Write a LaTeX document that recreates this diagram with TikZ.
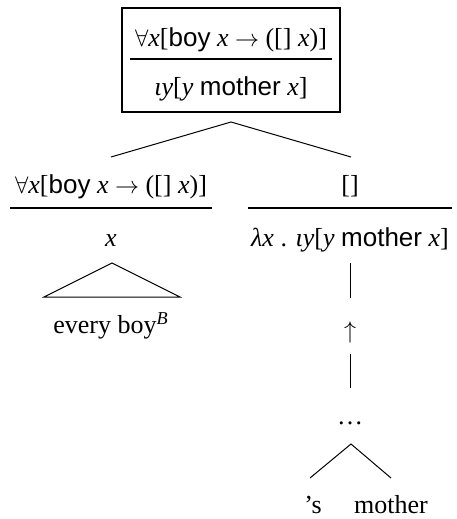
\documentclass[tikz,border=0pt]{standalone}
\usepackage{fontspec}
\setmainfont{Liberation Serif}
\newfontfamily\sansword{Liberation Sans}
\newcommand{\sw}[1]{{\sansword #1}}
\newcommand{\vi}[1]{\textit{#1}}
\begin{document}
\begin{tikzpicture}[x=0.5pt,y=-0.5pt,
  every node/.style={font=\fontsize{13}{15}\selectfont, inner sep=0pt},
  lbl/.style={anchor=base},
  edge/.style={draw=black, line width=0.5pt},
  rule/.style={draw=black, line width=0.6pt}]
\useasboundingbox (0,0) rectangle (456,519);

% root: boxed pair of meanings
\node[draw, line width=0.6pt, minimum width=109pt, minimum height=52pt] (root) at (231,60) {};
\node[lbl] (rootA) at (231,47) {$\forall$\vi{x}[\sw{boy} \vi{x} $\rightarrow$ ([] \vi{x})]};
\node[lbl] (rootB) at (231,96) {\vi{ιy}[\vi{y} \sw{mother} \vi{x}]};
\draw[rule] (130,59) -- (332,59);

% branching
\coordinate (apex) at (231,122);
\coordinate (lend) at (111,157);
\coordinate (rend) at (351,157);
\draw[edge] (lend) -- (apex) -- (rend);

% left daughter
\node[lbl] (leftA) at (111,193) {$\forall$\vi{x}[\sw{boy} \vi{x} $\rightarrow$ ([] \vi{x})]};
\draw[rule] (10,208) -- (212,208);
\node[lbl] (leftB) at (111,246) {\vi{x}};
\coordinate (ltop) at (112,263);
\coordinate (lbl1) at (44,297);
\coordinate (lbr) at (180,297);
\draw[edge] (lbl1) -- (ltop) -- (lbr) -- cycle;
\node[lbl] (every) at (111,333) {every boy\textsuperscript{\vi{B}}};

% right daughter
\node[lbl] (rightA) at (350,193) {[]};
\draw[rule] (248,208) -- (452,208);
\node[lbl] (rightB) at (350,246) {\vi{λx} . \vi{ιy}[\vi{y} \sw{mother} \vi{x}]};
\coordinate (v1a) at (350,263);
\coordinate (v1b) at (350,298);
\draw[edge] (v1a) -- (v1b);
\node[lbl] (up) at (350,338) {$\uparrow$};
\coordinate (v2a) at (350,354);
\coordinate (v2b) at (350,388);
\draw[edge] (v2a) -- (v2b);
\node[lbl] (dots) at (350,424) {\dots};
\coordinate (dapex) at (351,444);
\coordinate (dl) at (310,478);
\coordinate (dr) at (391,478);
\draw[edge] (dl) -- (dapex) -- (dr);
\node[lbl] (poss) at (313,513) {’s};
\node[lbl] (mother) at (391,513) {mother};
\end{tikzpicture}
\end{document}
